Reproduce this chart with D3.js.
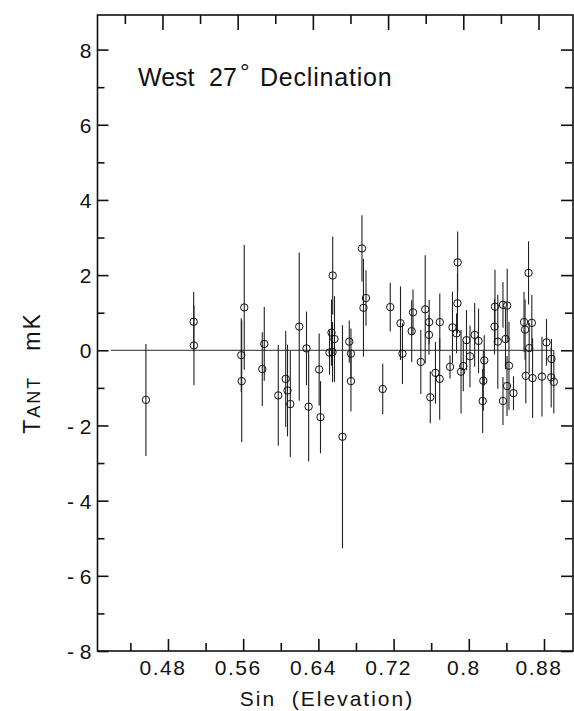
<!DOCTYPE html>
<html><head><meta charset="utf-8">
<script src="https://cdn.jsdelivr.net/npm/d3@7"></script>
<style>body{margin:0;background:#fff}svg{display:block}text{font-family:"Liberation Sans",Arial,sans-serif;fill:#111;white-space:pre}</style>
</head><body><svg id="c" width="574" height="711"></svg>
<script>
const sinElev = [0.4624,0.5132,0.5135,0.5670,0.5638,0.5643,0.5883,0.5862,0.6032,0.6111,0.6130,0.6160,0.6255,0.6332,0.6355,0.6467,0.6481,0.6611,0.6598,0.6630,0.6577,0.6609,0.6715,0.6787,0.6805,0.6805,0.6922,0.6965,0.6938,0.7143,0.7223,0.7332,0.7353,0.7465,0.7451,0.7548,0.7595,0.7637,0.7635,0.7704,0.7750,0.7749,0.7649,0.7859,0.7885,0.7928,0.7938,0.7940,0.7976,0.8000,0.8034,0.8071,0.8121,0.8162,0.8223,0.8213,0.8206,0.8337,0.8332,0.8367,0.8422,0.8467,0.8449,0.8486,0.8465,0.8422,0.8534,0.8694,0.8646,0.8657,0.8729,0.8701,0.8665,0.8737,0.8837,0.8885,0.8938,0.8935,0.8963];
const tantValues = [-1.32,0.76,0.13,1.14,-0.13,-0.82,0.17,-0.50,-1.20,-0.76,-1.07,-1.43,0.63,0.05,-1.50,-0.51,-1.78,1.99,0.47,0.30,-0.06,-0.05,-2.30,0.23,-0.09,-0.82,2.71,1.39,1.13,-1.03,1.15,0.72,-0.09,1.01,0.51,-0.31,1.09,0.75,0.41,-0.60,0.75,-0.76,-1.25,-0.44,0.61,0.45,1.25,2.34,-0.57,-0.42,0.27,-0.16,0.41,0.25,-0.27,-0.81,-1.35,1.16,0.63,0.23,1.21,1.19,0.30,-0.41,-0.95,-1.35,-1.14,2.06,0.75,0.55,0.73,0.06,-0.68,-0.74,-0.70,0.21,-0.23,-0.72,-0.84];
const tantErrors = [1.49,0.79,1.06,1.66,0.98,1.62,0.98,0.98,1.34,1.28,1.22,1.41,1.97,0.98,1.46,0.96,0.96,1.04,0.88,1.14,0.59,0.80,2.97,0.56,0.67,0.81,0.88,0.74,1.30,0.67,0.65,0.98,0.81,0.61,0.82,0.85,1.44,0.59,0.53,0.82,0.76,1.09,0.69,0.31,0.95,0.53,0.80,0.82,1.11,0.67,0.80,0.82,0.85,0.86,0.67,0.80,0.85,0.98,0.74,1.25,0.61,0.98,0.80,1.17,0.80,0.64,0.45,0.84,0.80,0.80,0.74,0.67,0.73,1.06,1.06,0.62,0.53,0.80,0.84];
const xMajorTicks = [0.48,0.56,0.64,0.72,0.80,0.88];
const xMajorLabels = ["0.48","0.56","0.64","0.72","0.8","0.88"];
const xMinorTicks = [0.44,0.52,0.60,0.68,0.76,0.84];
const yMajorTicks = [-8,-6,-4,-2,0,2,4,6,8];
const yMajorLabels = ["- 8","- 6","- 4","- 2","0","2","4","6","8"];
const yMinorTicks = [-7,-5,-3,-1,1,3,5,7];
const zeroLineExtent = [0.425,0.8963];

const svg = d3.select("#c");
const L=97.5, R=573, T=15, B=651;
const x = d3.scaleLinear().domain([0.4109,0.9167]).range([L,R]);
const y = d3.scaleLinear().domain([-8,8.92]).range([B,T]);

svg.append("rect").attr("x",L).attr("y",T).attr("width",R-L).attr("height",B-T)
  .attr("fill","none").attr("stroke","#111").attr("stroke-width",1.6);

function tickAxis(gen, vals, size, tx, ty){
  const g = svg.append("g").attr("transform",`translate(${tx},${ty})`)
    .call(gen.tickValues(vals).tickSize(size).tickFormat(""));
  g.select(".domain").remove();
  g.selectAll(".tick line").attr("stroke","#111").attr("stroke-width",1.6);
  return g;
}
tickAxis(d3.axisBottom(x), xMajorTicks, -12, 5.5, B);
tickAxis(d3.axisBottom(x), xMinorTicks, -8, 5.5, B);
tickAxis(d3.axisTop(x), xMajorTicks, -15, 0, T);
tickAxis(d3.axisTop(x), xMinorTicks, -9, 0, T);
tickAxis(d3.axisLeft(y), yMajorTicks, -11, L, 0);
tickAxis(d3.axisLeft(y), yMinorTicks, -7, L, 0);
tickAxis(d3.axisRight(y), yMajorTicks, -12, R, 0);
tickAxis(d3.axisRight(y), yMinorTicks, -8, R, 0);

const gx = svg.append("g").attr("transform",`translate(0,${B})`)
  .call(d3.axisBottom(x).tickValues(xMajorTicks).tickSize(0).tickPadding(0)
    .tickFormat((d,i)=>xMajorLabels[i]));
gx.select(".domain").remove();
gx.selectAll("text").attr("y",24).attr("dy",0).attr("font-size",21).attr("letter-spacing",1.5)
  .attr("font-family","'Liberation Sans',Arial,sans-serif").attr("fill","#111");

const gy = svg.append("g").attr("transform",`translate(${L},0)`)
  .call(d3.axisLeft(y).tickValues(yMajorTicks).tickSize(0).tickPadding(0)
    .tickFormat((d,i)=>yMajorLabels[i]));
gy.select(".domain").remove();
gy.selectAll("text").attr("x",-6).attr("dy","0.36em").attr("font-size",21)
  .attr("font-family","'Liberation Sans',Arial,sans-serif").attr("fill","#111");

svg.append("line").attr("x1",x(zeroLineExtent[0])).attr("x2",x(zeroLineExtent[1]))
  .attr("y1",y(0)).attr("y2",y(0)).attr("stroke","#555").attr("stroke-width",1.2);

const data = sinElev.map((s,i)=>({x:s,y:tantValues[i],e:tantErrors[i]}));
svg.append("g").selectAll("line").data(data).join("line")
  .attr("x1",d=>x(d.x)).attr("x2",d=>x(d.x))
  .attr("y1",d=>y(d.y+d.e)).attr("y2",d=>y(d.y-d.e))
  .attr("stroke","#222").attr("stroke-width",1.1);
svg.append("g").selectAll("circle").data(data).join("circle")
  .attr("cx",d=>x(d.x)).attr("cy",d=>y(d.y)).attr("r",3.7)
  .attr("fill","none").attr("stroke","#111").attr("stroke-width",1);

const t = svg.append("text").attr("y",86).attr("font-size",25).attr("fill","#111");
t.append("tspan").attr("x",138).text("West");
t.append("tspan").attr("x",209).text("27");
t.append("tspan").attr("x",240).attr("dy",-6).attr("font-size",24).text("°");
t.append("tspan").attr("x",260).attr("dy",6).attr("letter-spacing",0.8).text("Declination");

svg.append("text").attr("x",327).attr("y",706).attr("text-anchor","middle").attr("fill","#111")
  .attr("font-size",21).attr("letter-spacing",2).text("Sin  (Elevation)");
const yl = svg.append("text").attr("transform","translate(40,373) rotate(-90)").attr("fill","#111")
  .attr("text-anchor","middle").attr("font-size",23).attr("letter-spacing",2);
yl.append("tspan").attr("fill","#111").text("T");
yl.append("tspan").attr("fill","#111").attr("font-size",18).text("ANT");
yl.append("tspan").attr("fill","#111").text("   mK");
</script></body></html>
